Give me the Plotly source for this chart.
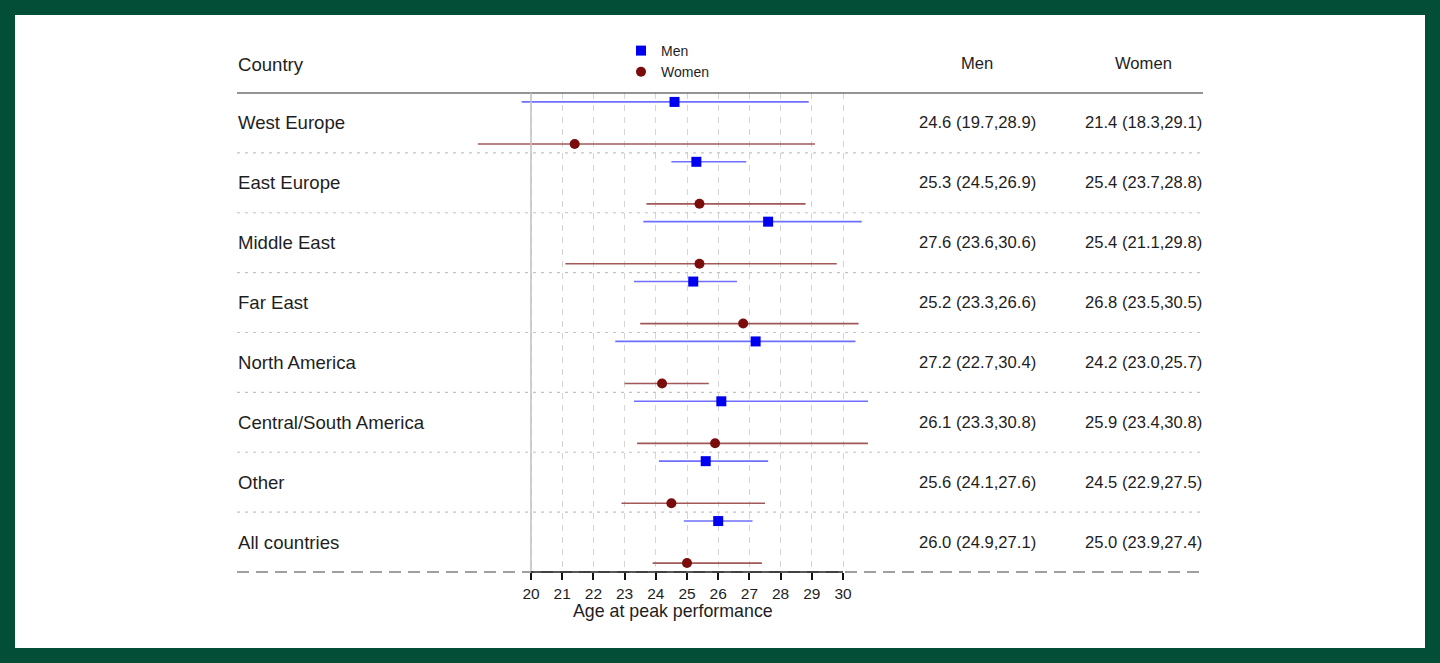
import plotly.graph_objects as go

# ---------------- data ----------------
regions = ["West Europe", "East Europe", "Middle East", "Far East",
           "North America", "Central/South America", "Other", "All countries"]
men_est = [24.6, 25.3, 27.6, 25.2, 27.2, 26.1, 25.6, 26.0]
men_lo = [19.7, 24.5, 23.6, 23.3, 22.7, 23.3, 24.1, 24.9]
men_hi = [28.9, 26.9, 30.6, 26.6, 30.4, 30.8, 27.6, 27.1]
women_est = [21.4, 25.4, 25.4, 26.8, 24.2, 25.9, 24.5, 25.0]
women_lo = [18.3, 23.7, 21.1, 23.5, 23.0, 23.4, 22.9, 23.9]
women_hi = [29.1, 28.8, 29.8, 30.5, 25.7, 30.8, 27.5, 27.4]
tick_vals = [20, 21, 22, 23, 24, 25, 26, 27, 28, 29, 30]
col_headers = ["Country", "Men", "Women"]
x_title = "Age at peak performance"

# ---------------- layout geometry ----------------
W, H = 1440, 663
PL, PR, PT, PB = 237, 1203, 93, 572          # plot area in pixels
X20, PX_PER_UNIT = 531, 31.2                  # pixel of x=20, px per year
xr = [20 + (PL - X20) / PX_PER_UNIT, 20 + (PR - X20) / PX_PER_UNIT]
OFF = 0.351                                   # men/women offset from row centre

FONT = "Liberation Sans, Arial, sans-serif"
TXT = "#1e1e1e"
MEN_MK, MEN_LN = "#0000f0", "#6f6fff"
WOM_MK, WOM_LN = "#7a0c0c", "#a05858"

LABEL_SIZE = 18.6
VALUE_SIZE = 16.6


def px_x(p):
    return (p - PL) / (PR - PL)


def px_y(p):
    return (PB - p) / (PB - PT)


n = len(regions)
rows = list(range(n))
men_y = [r - OFF for r in rows]
wom_y = [r + OFF for r in rows]

fig = go.Figure()

fig.add_trace(go.Scatter(
    x=men_est, y=men_y, mode="markers", name="Men", showlegend=False,
    marker=dict(symbol="square", size=10, color=MEN_MK),
    error_x=dict(type="data", symmetric=False,
                 array=[h - e for h, e in zip(men_hi, men_est)],
                 arrayminus=[e - l for e, l in zip(men_est, men_lo)],
                 width=0, thickness=1.6, color=MEN_LN),
    cliponaxis=False))
fig.add_trace(go.Scatter(
    x=women_est, y=wom_y, mode="markers", name="Women", showlegend=False,
    marker=dict(symbol="circle", size=10, color=WOM_MK),
    error_x=dict(type="data", symmetric=False,
                 array=[h - e for h, e in zip(women_hi, women_est)],
                 arrayminus=[e - l for e, l in zip(women_est, women_lo)],
                 width=0, thickness=1.6, color=WOM_LN),
    cliponaxis=False))
# legend-only entries
fig.add_trace(go.Scatter(x=[None], y=[None], mode="markers", name="Men",
                         marker=dict(symbol="square", size=10, color=MEN_MK)))
fig.add_trace(go.Scatter(x=[None], y=[None], mode="markers", name="Women",
                         marker=dict(symbol="circle", size=10, color=WOM_MK)))

shapes = []
# green frame: white panel over green paper
shapes.append(dict(type="rect", xref="paper", yref="paper",
                   x0=px_x(15), x1=px_x(W - 15), y0=px_y(H - 15), y1=px_y(15),
                   fillcolor="white", line=dict(width=0), layer="below"))
# header rule
shapes.append(dict(type="line", xref="paper", yref="paper", x0=0, x1=1,
                   y0=1, y1=1, line=dict(color="#707070", width=1.5)))
# solid reference line at 20
shapes.append(dict(type="line", xref="x", yref="paper", x0=20, x1=20,
                   y0=0, y1=1, line=dict(color="#c4c4c4", width=1.6)))
# dotted row separators
for r in rows[:-1]:
    shapes.append(dict(type="line", xref="paper", yref="y", x0=0, x1=1,
                       y0=r + 0.5, y1=r + 0.5,
                       line=dict(color="#c2c2c2", width=1.2, dash="3px,5px")))
# bottom dashed line
shapes.append(dict(type="line", xref="paper", yref="paper", x0=0, x1=1,
                   y0=0, y1=0,
                   line=dict(color="#808080", width=1.5, dash="12px,7px")))
# axis line 20..30
shapes.append(dict(type="line", xref="x", yref="paper", x0=tick_vals[0],
                   x1=tick_vals[-1], y0=0, y1=0,
                   line=dict(color="#222222", width=1.3)))

ann = []
for r, name in zip(rows, regions):
    ann.append(dict(x=px_x(236), y=r, xref="paper", yref="y", text=name,
                    showarrow=False, xanchor="left", yanchor="middle",
                    font=dict(size=LABEL_SIZE, color=TXT, family=FONT)))
    ann.append(dict(x=px_x(977), y=r, xref="paper", yref="y",
                    text=f"{men_est[r]:.1f} ({men_lo[r]:.1f},{men_hi[r]:.1f})",
                    showarrow=False, xanchor="center", yanchor="middle",
                    font=dict(size=VALUE_SIZE, color=TXT, family=FONT)))
    ann.append(dict(x=px_x(1143), y=r, xref="paper", yref="y",
                    text=f"{women_est[r]:.1f} ({women_lo[r]:.1f},{women_hi[r]:.1f})",
                    showarrow=False, xanchor="center", yanchor="middle",
                    font=dict(size=VALUE_SIZE, color=TXT, family=FONT)))
ann.append(dict(x=px_x(236), y=px_y(64), xref="paper", yref="paper",
                text=col_headers[0], showarrow=False, xanchor="left",
                yanchor="middle", font=dict(size=LABEL_SIZE, color=TXT, family=FONT)))
ann.append(dict(x=px_x(977), y=px_y(63), xref="paper", yref="paper",
                text=col_headers[1], showarrow=False, xanchor="center",
                yanchor="middle", font=dict(size=VALUE_SIZE, color=TXT, family=FONT)))
ann.append(dict(x=px_x(1143), y=px_y(63), xref="paper", yref="paper",
                text=col_headers[2], showarrow=False, xanchor="center",
                yanchor="middle", font=dict(size=VALUE_SIZE, color=TXT, family=FONT)))
ann.append(dict(x=px_x(673), y=px_y(611), xref="paper", yref="paper",
                text=x_title, showarrow=False, xanchor="center",
                yanchor="middle", font=dict(size=17.8, color=TXT, family=FONT)))

fig.update_layout(
    width=W, height=H,
    margin=dict(l=PL, r=W - PR, t=PT, b=H - PB, pad=0),
    paper_bgcolor="#034e36", plot_bgcolor="white",
    font=dict(family=FONT, color=TXT),
    xaxis=dict(range=xr, tickvals=tick_vals, ticktext=[str(v) for v in tick_vals],
               ticks="outside", ticklen=7, tickwidth=1.6, tickcolor="#111111",
               showline=False, zeroline=False, showgrid=True,
               gridcolor="#d4d4d4", griddash="6px,6px", gridwidth=1.2,
               tickfont=dict(size=15.5, color=TXT, family=FONT), fixedrange=True),
    yaxis=dict(range=[n - 0.5, -0.5], showgrid=False, zeroline=False,
               showticklabels=False, ticks="", showline=False, fixedrange=True),
    legend=dict(x=px_x(621), y=px_y(35), xanchor="left", yanchor="top",
                bgcolor="rgba(0,0,0,0)", font=dict(size=14, color=TXT, family=FONT),
                itemwidth=30, tracegroupgap=0),
    shapes=shapes, annotations=ann, showlegend=True,
)

fig.write_html("out.html")
